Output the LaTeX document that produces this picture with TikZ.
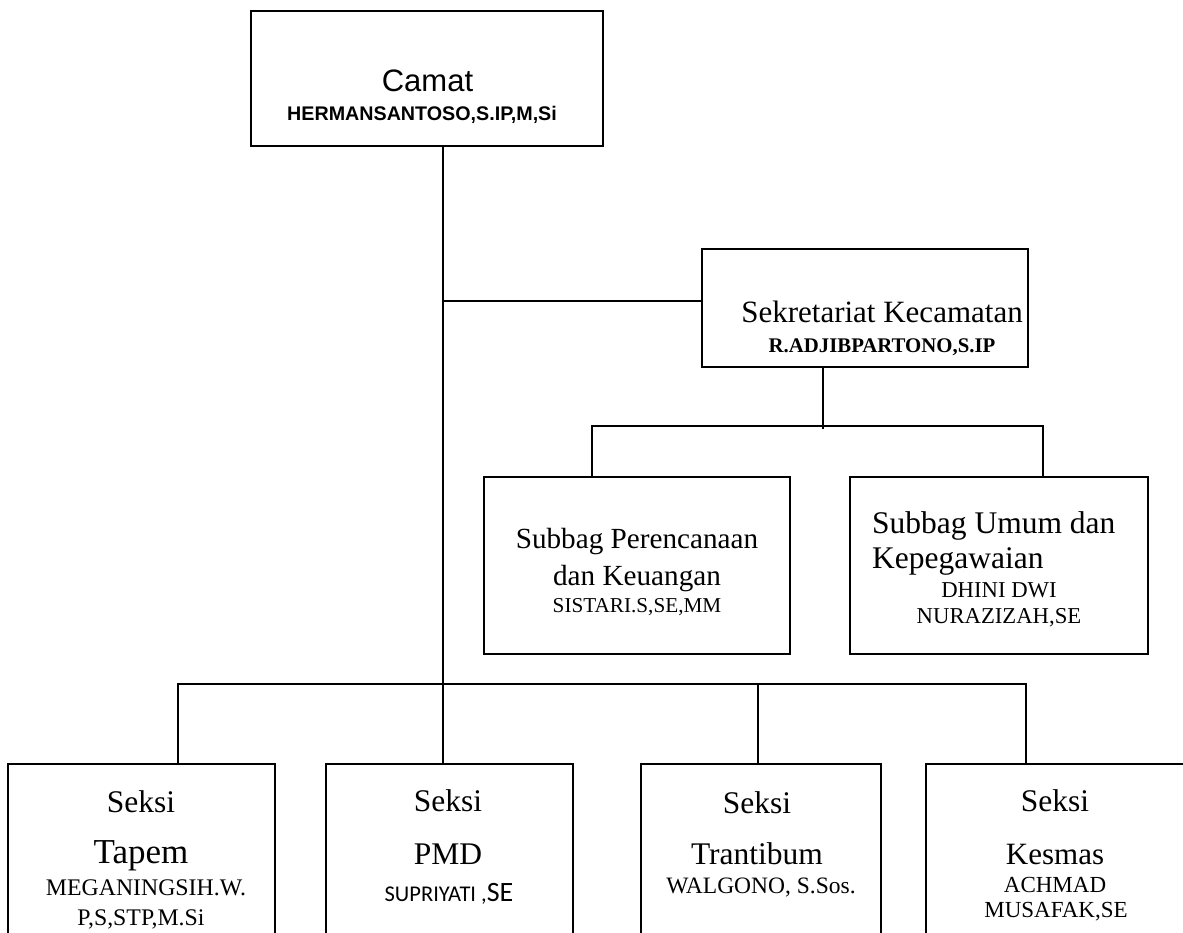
\documentclass[tikz,border=0pt]{standalone}
\usepackage{fontspec}
\setmainfont{Liberation Serif}
\newfontfamily\arialf{Liberation Sans}
\newfontfamily\calibf{Carlito}
\newcommand\setfs[1]{\fontsize{#1}{#1}\selectfont}
\begin{document}
\begin{tikzpicture}[x=1pt,y=-1pt,
  box/.style={draw, line width=1.8pt, inner sep=0pt, outer sep=0pt},
  conn/.style={line width=1.5pt},
  txt/.style={inner sep=0pt, anchor=base}]
\useasboundingbox (0,0) rectangle (1183,933);
\clip (0,0) rectangle (1183,933);
% boxes
\node[box, minimum width=352pt, minimum height=135pt] (camat) at (427,78.5) {};
\node[box, minimum width=326pt, minimum height=118pt] (sek) at (865,308) {};
\node[box, minimum width=306pt, minimum height=177pt] (sub1) at (637,565.5) {};
\node[box, minimum width=298pt, minimum height=177pt] (sub2) at (999,565.5) {};
\node[box, minimum width=267pt, minimum height=196pt] (tapem) at (141.5,862) {};
\node[box, minimum width=247pt, minimum height=196pt] (pmd) at (449.5,862) {};
\node[box, minimum width=240pt, minimum height=196pt] (trant) at (761,862) {};
\node[box, minimum width=260pt, minimum height=196pt] (kesmas) at (1056,862) {};
% connector points
\coordinate (trunk) at (443,760);
\coordinate (j1) at (443,301);
\coordinate (sb) at (823,429);
\coordinate (sbl) at (592,426);
\coordinate (sbr) at (1043,426);
\coordinate (bl) at (178,684);
\coordinate (bt) at (758,684);
\coordinate (br) at (1026,684);
% connectors
\draw[conn] (camat.south -| trunk) -- (pmd.north -| trunk);
\draw[conn] (j1) -- (j1 -| sek.west);
\draw[conn] (sek.south -| sb) -- (sb);
\draw[conn] (sub1.north -| sbl) -- (sbl) -- (sbr) -- (sub2.north -| sbr);
\draw[conn] (tapem.north -| bl) -- (bl) -- (br) -- (kesmas.north -| br);
\draw[conn] (bt) -- (trant.north -| bt);
% texts
\node[txt, font=\arialf\setfs{31}] (tcamat) at (427.5,92) {Camat};
\node[txt, font=\arialf\bfseries\setfs{19.7}] (ncamat) at (422,121) {HERMANSANTOSO,S.IP,M,Si};
\node[txt, font=\setfs{31}] (tsek) at (882,323) {Sekretariat Kecamatan};
\node[txt, font=\bfseries\setfs{20.8}] (nsek) at (882,352) {R.ADJIBPARTONO,S.IP};
\node[txt, font=\setfs{29.2}] (tsub1a) at (637,548) {Subbag Perencanaan};
\node[txt, font=\setfs{29.2}] (tsub1b) at (637,585) {dan Keuangan};
\node[txt, font=\setfs{21.2}] (nsub1) at (637,612) {SISTARI.S,SE,MM};
\node[txt, anchor=base west, font=\setfs{31.5}] (tsub2a) at (872,533) {Subbag Umum dan};
\node[txt, anchor=base west, font=\setfs{31.5}] (tsub2b) at (872,568) {Kepegawaian};
\node[txt, font=\setfs{22.7}] (nsub2a) at (999,597) {DHINI DWI};
\node[txt, font=\setfs{22.7}] (nsub2b) at (999,623) {NURAZIZAH,SE};
% Tapem
\node[txt, font=\setfs{31.5}] (ttapa) at (141,812) {Seksi};
\node[txt, font=\setfs{35}] (ttapb) at (141,863) {Tapem};
\node[txt, font=\setfs{23.8}] (ntapa) at (146,895) {MEGANINGSIH.W.};
\node[txt, font=\setfs{23.8}] (ntapb) at (141,925) {P,S,STP,M.Si};
% PMD
\node[txt, font=\setfs{31.5}] (tpmda) at (448,811) {Seksi};
\node[txt, font=\setfs{31.5}] (tpmdb) at (448,864) {PMD};
\node[txt, font=\calibf] (npmd) at (449,901) {\setfs{22.5}SUPRIYATI ,\setfs{28}SE};
% Trantibum
\node[txt, font=\setfs{31.5}] (ttra) at (757,813) {Seksi};
\node[txt, font=\setfs{31.5}] (ttrb) at (757,864) {Trantibum};
\node[txt, font=\setfs{23.5}] (ntr) at (761,893) {WALGONO, S.Sos.};
% Kesmas
\node[txt, font=\setfs{31.5}] (tkea) at (1055,811) {Seksi};
\node[txt, font=\setfs{31}] (tkeb) at (1055,864) {Kesmas};
\node[txt, font=\setfs{23}] (nkea) at (1055,892) {ACHMAD};
\node[txt, font=\setfs{23}] (nkeb) at (1056,917) {MUSAFAK,SE};
\end{tikzpicture}
\end{document}
